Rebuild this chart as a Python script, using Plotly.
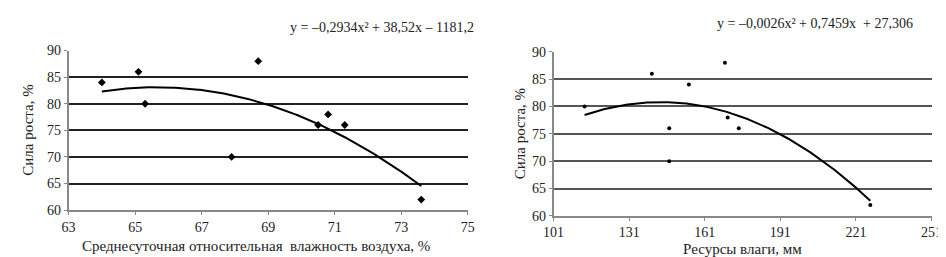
import numpy as np
import plotly.graph_objects as go

# Left chart: relative air humidity vs. growth strength
hum_x = [64.0, 65.1, 65.3, 67.9, 68.7, 70.5, 70.8, 71.3, 73.6]
hum_y = [84, 86, 80, 70, 88, 76, 78, 76, 62]
hum_coef = [-0.2934, 38.52, -1181.2]
hum_eq = "y = –0,2934x² + 38,52x – 1181,2"

# Right chart: moisture resources vs. growth strength
res_x = [113.3, 140.0, 146.9, 146.9, 154.7, 169.0, 170.1, 174.5, 226.7]
res_y = [80, 86, 76, 70, 84, 88, 78, 76, 62]
res_coef = [-0.0026, 0.7459, 27.306]
res_eq = "y = –0,0026x² + 0,7459x  + 27,306"

y_title = "Сила роста, %"
hum_title = "Среднесуточная относительная  влажность воздуха, %"
res_title = "Ресурсы влаги, мм"

FONT = "Liberation Serif, Times New Roman, serif"
TXT = "#222222"

fig = go.Figure()

# trend lines from printed equations
hx = np.linspace(min(hum_x), max(hum_x), 200)
fig.add_trace(go.Scatter(x=hx, y=np.polyval(hum_coef, hx), mode="lines",
                         line=dict(color="black", width=2), xaxis="x", yaxis="y",
                         hoverinfo="skip"))
fig.add_trace(go.Scatter(x=hum_x, y=hum_y, mode="markers",
                         marker=dict(symbol="diamond", size=6, color="black"),
                         xaxis="x", yaxis="y"))

rx = np.linspace(min(res_x), max(res_x), 200)
fig.add_trace(go.Scatter(x=rx, y=np.polyval(res_coef, rx), mode="lines",
                         line=dict(color="black", width=2), xaxis="x2", yaxis="y2",
                         hoverinfo="skip"))
fig.add_trace(go.Scatter(x=res_x, y=res_y, mode="markers",
                         marker=dict(symbol="circle", size=4, color="black"),
                         xaxis="x2", yaxis="y2"))

tickfont = dict(family=FONT, size=14, color=TXT)

def xaxis(domain, rng, dtick, anchor):
    return dict(domain=domain, range=rng, dtick=dtick, tick0=rng[0], anchor=anchor,
                showgrid=False, zeroline=False, showline=True, linecolor="#888888",
                linewidth=1.5, ticks="outside", ticklen=3, tickcolor="#888888",
                tickfont=tickfont, fixedrange=True)

def yaxis(domain, anchor, gridcolor):
    return dict(domain=domain, range=[60, 90], dtick=5, anchor=anchor,
                showgrid=True, gridcolor=gridcolor, gridwidth=1.5, zeroline=False,
                showline=True, linecolor="#888888", linewidth=1.5, ticks="outside",
                ticklen=3, tickcolor="#888888", tickfont=tickfont, fixedrange=True)

fig.update_layout(
    width=946, height=257,
    margin=dict(l=0, r=0, t=0, b=0),
    paper_bgcolor="white", plot_bgcolor="white",
    showlegend=False,
    font=dict(family=FONT, color=TXT),
    xaxis=xaxis([0.0547, 0.4863], [63, 75], 2, "y"),
    yaxis=yaxis([0.1934, 0.8533], "x", "#222222"),
    xaxis2=xaxis([0.579, 0.9876], [101, 251], 30, "y2"),
    yaxis2=yaxis([0.170, 0.848], "x2", "#555555"),
)

ann = [
    dict(text=hum_eq, x=468, y=13, xanchor="right", size=14),
    dict(text=res_eq, x=917, y=9, xanchor="right", size=14),
    dict(text=hum_title, x=243, y=245, xanchor="center", size=15),
    dict(text=res_title, x=741, y=248, xanchor="center", size=15),
]
for a in ann:
    fig.add_annotation(text=a["text"], x=a["x"] / 946, y=1 - a["y"] / 257,
                       xref="paper", yref="paper", xanchor=a["xanchor"],
                       yanchor="middle", showarrow=False,
                       font=dict(family=FONT, size=a["size"], color=TXT))
for xp, yp in [(10, 122), (513, 126)]:
    fig.add_annotation(text=y_title, x=xp / 946, y=1 - yp / 257, xref="paper",
                       yref="paper", xanchor="center", yanchor="middle",
                       textangle=-90, showarrow=False,
                       font=dict(family=FONT, size=15, color=TXT))

fig.write_html("out.html")
